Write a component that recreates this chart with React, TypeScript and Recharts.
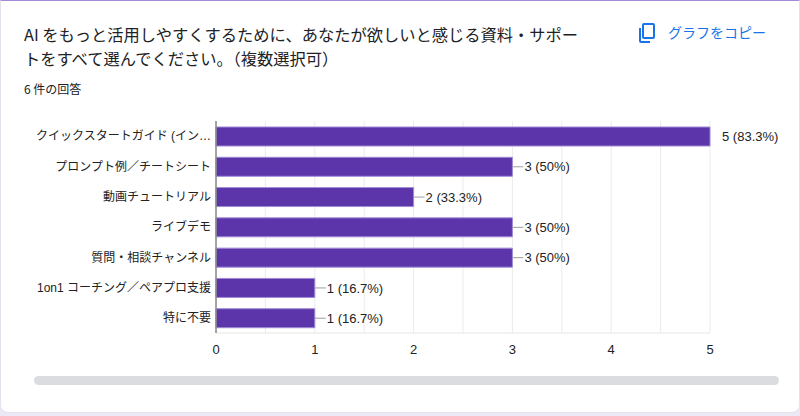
import { BarChart, Bar, XAxis, YAxis, CartesianGrid, LabelList } from "recharts";

const categories = [
  "クイックスタートガイド (イン…",
  "プロンプト例／チートシート",
  "動画チュートリアル",
  "ライブデモ",
  "質問・相談チャンネル",
  "1on1 コーチング／ペアプロ支援",
  "特に不要",
];
const counts = [5, 3, 2, 3, 3, 1, 1];
const respondents = 6;
const xTicks = [0, 0.5, 1, 1.5, 2, 2.5, 3, 3.5, 4, 4.5, 5];

const data = categories.map((name, i) => ({ name, value: counts[i] }));
const maxCount = Math.max(...counts);

const BAR_FILL = "#5c35aa";
const BAR_EDGE = "#a08bd6";
const TEXT = "#222";
const FONT = '"Liberation Sans", "Noto Sans CJK JP", sans-serif';

const pctLabel = (v: number) => `${v} (${Math.round((v / respondents) * 1000) / 10}%)`;

const ValueLabel = (props: any) => {
  const { x, y, width, height, value } = props;
  const end = x + width;
  const cy = y + height / 2;
  const withLine = value !== maxCount;
  const textX = withLine ? end + 12 : end + 12;
  return (
    <g>
      {withLine && <line x1={end} y1={cy} x2={end + 11} y2={cy} stroke="#9e9e9e" strokeWidth={1} />}
      <text x={textX} y={cy} dy="0.36em" fontSize={13} fill={TEXT} fontFamily={FONT}>
        {pctLabel(value)}
      </text>
    </g>
  );
};

const CategoryTick = (props: any) => {
  const { x, y, payload } = props;
  return (
    <text x={x} y={y} dy="0.36em" textAnchor="end" fontSize={12} fill={TEXT} fontFamily={FONT}>
      {payload.value}
    </text>
  );
};

const CopyIcon = () => (
  <svg width={24} height={24} viewBox="0 0 24 24" style={{ position: "absolute", left: 634, top: 20 }}>
    <rect x={8} y={3} width={11} height={14} rx={1} fill="none" stroke="#1a73e8" strokeWidth={2} />
    <path d="M5 7 V20 a1 1 0 0 0 1 1 H15" fill="none" stroke="#1a73e8" strokeWidth={2} />
  </svg>
);

export default function App() {
  return (
    <div
      style={{
        position: "fixed",
        left: 0,
        top: 0,
        width: 800,
        height: 416,
        background: "#ece8f5",
        fontFamily: '"Noto Sans CJK JP", sans-serif',
        overflow: "hidden",
      }}
    >
      <div
        style={{
          position: "absolute",
          left: 0,
          top: 0,
          width: 798,
          height: 411,
          background: "#fff",
          borderTop: "1px solid #a58bd6",
          borderRight: "1px solid #e4e0ec",
          borderLeft: "1px solid #e4e0ec",
          borderBottom: "1px solid #e4e0ec",
          borderRadius: "0 0 8px 8px",
        }}
      >
        <div
          style={{
            position: "absolute",
            left: 23,
            top: 21,
            fontSize: 16.25,
            lineHeight: "24px",
            color: "#202124",
          }}
        >
          AI をもっと活用しやすくするために、あなたが欲しいと感じる資料・サポー
          <br />
          トをすべて選んでください。（複数選択可）
        </div>
        <div style={{ position: "absolute", left: 23, top: 79, fontSize: 12, color: "#202124" }}>6 件の回答</div>
        <CopyIcon />
        <div style={{ position: "absolute", left: 667, top: 21, fontSize: 14, color: "#1a73e8" }}>グラフをコピー</div>

        <div style={{ position: "absolute", left: -1, top: 109 }}>
          <BarChart
            width={800}
            height={250}
            data={data}
            layout="vertical"
            margin={{ top: 11, right: 90, bottom: 0, left: 0 }}
            barSize={19}
          >
            <CartesianGrid horizontal={false} stroke="#ebebeb" />
            <XAxis
              type="number"
              domain={[0, 5]}
              ticks={xTicks}
              interval={0}
              height={27}
              tickLine={false}
              tickSize={0}
              tickMargin={12}
              axisLine={{ stroke: "#e6e6e6" }}
              tickFormatter={(v: number) => (Number.isInteger(v) ? String(v) : "")}
              tick={{ fontSize: 13, fill: TEXT, fontFamily: FONT }}
            />
            <YAxis
              type="category"
              dataKey="name"
              width={216}
              tickLine={false}
              tickSize={0}
              tickMargin={5}
              interval={0}
              axisLine={{ stroke: "#888", strokeWidth: 1.5 }}
              tick={<CategoryTick />}
            />
            <Bar dataKey="value" fill={BAR_FILL} stroke={BAR_EDGE} strokeWidth={1} isAnimationActive={false}>
              <LabelList dataKey="value" content={<ValueLabel />} />
            </Bar>
          </BarChart>
        </div>

        <div
          style={{
            position: "absolute",
            left: 33,
            top: 375,
            width: 745,
            height: 9,
            borderRadius: 5,
            background: "#dadce0",
          }}
        />
      </div>
    </div>
  );
}
